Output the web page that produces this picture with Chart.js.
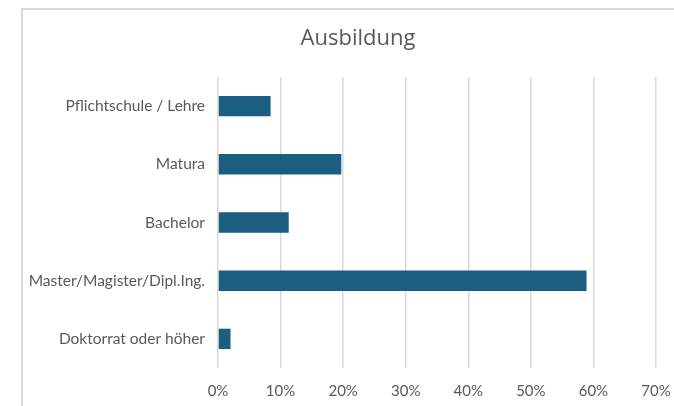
<!DOCTYPE html>
<html>
<head>
<meta charset="utf-8">
<script src="https://cdn.jsdelivr.net/npm/chart.js@4/dist/chart.umd.min.js"></script>
<style>
  html, body { margin: 0; padding: 0; background: #fff; overflow: hidden; }
  #frame { position: absolute; left: 21px; top: 8px; width: 700px; height: 440px; border: 2px solid #d9d9d9; }
  #wrap { position: absolute; left: 0; top: 0; width: 674px; height: 406px; }
</style>
</head>
<body>
<div id="frame"></div>
<div id="wrap"><canvas id="chart" width="674" height="406"></canvas></div>
<script>
const categories = ['Pflichtschule / Lehre', 'Matura', 'Bachelor', 'Master/Magister/Dipl.Ing.', 'Doktorrat oder höher'];
const shares = [0.084, 0.197, 0.113, 0.589, 0.020];
const xTicks = [0, 0.1, 0.2, 0.3, 0.4, 0.5, 0.6, 0.7];
const chartTitle = 'Ausbildung';

// title sits centred on the chart frame, not on the plot area
const titlePlugin = {
    id: 'frameTitle',
    afterDraw(chart) {
        const c = chart.ctx;
        c.save();
        c.fillStyle = '#595959';
        c.font = '22px "Open Sans"';
        c.textAlign = 'center';
        c.textBaseline = 'middle';
        c.fillText(chartTitle, 358, 39);
        c.restore();
    }
};

function load_chart()
{
const ctx = document.getElementById('chart');
const chart = new Chart(ctx, {
    type: 'bar',
    data: {
        labels: categories,
        datasets: [{
            label: chartTitle,
            data: shares,
            backgroundColor: '#1b5e82',
            borderWidth: 0,
            categoryPercentage: 1,
            barPercentage: 0.35
        }]
    },
    plugins: [titlePlugin],
    options: {
        indexAxis: 'y',
        responsive: false,
        animation: false,
        layout: {
            padding: { left: 0, right: 18, top: 77, bottom: 0 }
        },
        plugins: {
            legend: { display: false },
            tooltip: { enabled: false },
            title: { display: false }
        },
        scales: {
            x: {
                min: 0,
                max: 0.7,
                afterBuildTicks: function(scale) {
                    scale.ticks = xTicks.map(v => ({ value: v }));
                },
                afterFit: function(scale) {
                    scale.height = 38;
                    scale.paddingLeft = 0;
                    scale.paddingRight = 0;
                },
                grid: {
                    color: '#d9d9d9',
                    lineWidth: 1.5,
                    drawTicks: false
                },
                border: { display: false },
                ticks: {
                    color: '#595959',
                    padding: 14,
                    font: { family: 'Lato', size: 15 },
                    callback: v => Math.round(v * 100) + '%'
                }
            },
            y: {
                afterFit: function(scale) { scale.width = 218; },
                grid: { display: false, drawTicks: false },
                border: { display: false },
                ticks: {
                    color: '#595959',
                    padding: 13,
                    font: { family: 'Lato', size: 15.5 }
                }
            }
        }
    }
});
};
load_chart();
</script>
</body>
</html>
